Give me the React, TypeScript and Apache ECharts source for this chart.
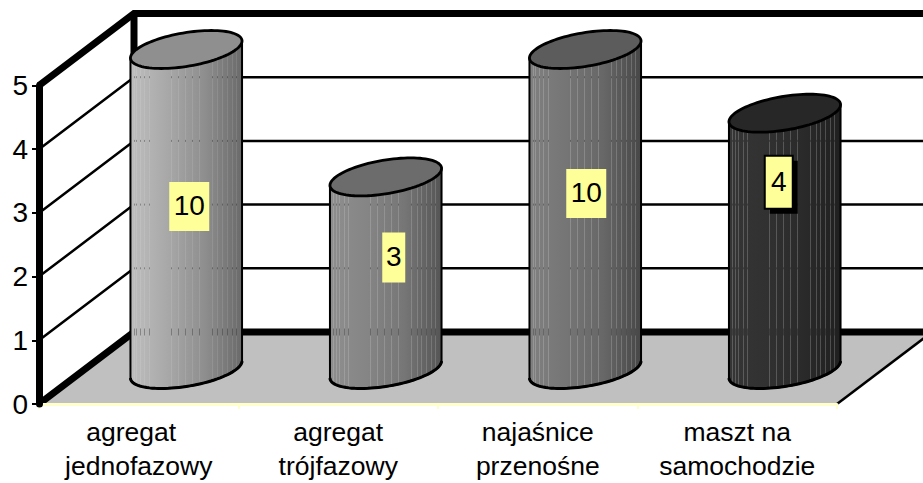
import React, { useEffect, useRef } from "react";
import * as echarts from "echarts";

const categories = ["agregat\njednofazowy", "agregat\ntrójfazowy", "najaśnice\nprzenośne", "maszt na\nsamochodzie"];
const values = [10, 3, 10, 4];
const gridLevels = [0, 1, 2, 3, 4, 5];
const axisMax = 5;

const sideStops = [
  ["#bebebe", "#a8a8a8", "#8e8e8e", "#6a6a6a"],
  ["#8e8e8e", "#858585", "#767676", "#555555"],
  ["#808080", "#757575", "#676767", "#474747"],
  ["#353535", "#313131", "#2a2a2a", "#202020"],
];
const topFills = ["#8f8f8f", "#6c6c6c", "#5c5c5c", "#272727"];
const stripeAlpha = [0.1, 0.16, 0.18, 0.2];
const stripeAt = [0.03, 0.05, 0.083, 0.125, 0.164, 0.363, 0.423, 0.485, 0.548, 0.61, 0.729, 0.78, 0.82, 0.863, 0.908, 0.943];

// hand-placed data labels of the reference: [dx from column centre, dy from column top, box width, box height]
const labelBoxes = [
  [3, 157, 40, 49],
  [8, 80.5, 23, 50],
  [1, 144, 40, 49],
  [-6, 69, 28, 53],
];
const selectedLabel = 3;

const DX = 95;
const DY = -72;
const FONT = '"Liberation Sans", Arial, sans-serif';
const FONT_SIZE = 26.5;
const NUMBER_SIZE = 28;

function wallItem(params: any, api: any) {
  const level = api.value(0);
  const cs = params.coordSys;
  const y = api.coord([0, level])[1];
  const x0 = cs.x;
  const x1 = cs.x + cs.width;
  const thick = level === 0 || level === axisMax;
  const lw = thick ? 7 : 2.5;
  const black = { stroke: "#000", lineWidth: lw, fill: "none" };
  const children: any[] = [];
  if (level === 0) {
    children.push({
      type: "polygon",
      shape: { points: [[x0, y], [x1, y], [x1 + DX, y + DY], [x0 + DX, y + DY]] },
      style: { fill: "#c0c0c0", stroke: "none" },
    });
    children.push({
      type: "line",
      shape: { x1: x1, y1: y, x2: x1 + DX, y2: y + DY },
      style: { stroke: "#000", lineWidth: 2.5 },
    });
    children.push({
      type: "line",
      shape: { x1: x0 + DX, y1: cs.y + DY, x2: x0 + DX, y2: y + DY },
      style: { stroke: "#000", lineWidth: 7 },
    });
  }
  children.push({
    type: "polyline",
    shape: { points: [[x0, y], [x0 + DX, y + DY], [x1 + DX, y + DY]] },
    style: black,
  });
  return { type: "group", children };
}

function columnItem(params: any, api: any) {
  const i = api.value(0);
  const raw = api.value(1);
  const v = Math.min(raw, axisMax);
  const base = api.coord([i, 0]);
  const head = api.coord([i, v]);
  const cx = base[0] + DX / 2;
  const by = base[1] + DY / 2 + 1.5;
  const ty = head[1] + DY / 2;
  const a = api.size([1, 0])[0] * 0.25;
  const vx = 25;
  const vy = -19;
  const t0 = Math.atan2(vx, a);
  const pt = (t: number, y0: number) => [cx + a * Math.cos(t) + vx * Math.sin(t), y0 + vy * Math.sin(t)];
  const arc: number[][] = [];
  const top: number[][] = [];
  const N = 48;
  for (let k = 0; k <= N; k++) arc.push(pt(t0 + Math.PI + (k / N) * Math.PI, by));
  for (let k = 0; k < N * 2; k++) top.push(pt((k / N) * Math.PI, ty));
  const left = pt(t0 + Math.PI, ty);
  const right = pt(t0, ty);
  const stops = sideStops[i];
  const children: any[] = [
    {
      type: "polygon",
      shape: { points: [left, ...arc, right] },
      style: {
        fill: new echarts.graphic.LinearGradient(0, 0, 1, 0, stops.map((color, n) => ({ offset: n / (stops.length - 1), color }))),
        stroke: "#000",
        lineWidth: 2,
      },
    },
  ];
  const width = right[0] - left[0];
  const arcY = (x: number) => {
    for (let k = 1; k < arc.length; k++) {
      if (arc[k][0] >= x) return arc[k][1];
    }
    return arc[arc.length - 1][1];
  };
  stripeAt.forEach((f) => {
    const x = Math.round(left[0] + f * width) + 0.5;
    children.push({
      type: "line",
      shape: { x1: x, y1: ty, x2: x, y2: arcY(x) - 1 },
      style: { stroke: `rgba(255,255,255,${stripeAlpha[i]})`, lineWidth: 1 },
    });
    gridLevels.forEach((level) => {
      const gy = api.coord([0, level])[1] + DY;
      if (level > v || gy < ty) return;
      const h = level === 0 ? 7 : 2;
      children.push({
        type: "line",
        shape: { x1: x, y1: gy - h / 2, x2: x, y2: gy + h / 2 },
        style: { stroke: "rgba(0,0,0,0.3)", lineWidth: 1 },
      });
    });
  });
  children.push({
    type: "polyline",
    shape: { points: arc },
    style: { fill: "none", stroke: "#000", lineWidth: 3 },
  });
  children.push({
    type: "polygon",
    shape: { points: top },
    style: { fill: topFills[i], stroke: "#000", lineWidth: 2.8 },
  });
  const box = labelBoxes[i];
  const lx = cx + box[0] - box[2] / 2;
  const ly = ty + box[1] - box[3] / 2;
  const selected = i === selectedLabel;
  if (selected) {
    children.push({
      type: "rect",
      shape: { x: lx + 5, y: ly + 5, width: box[2], height: box[3] },
      style: { fill: "#000" },
    });
  }
  children.push({
    type: "rect",
    shape: { x: lx, y: ly, width: box[2], height: box[3] },
    style: { fill: "#ffff99", stroke: selected ? "#000" : "none", lineWidth: selected ? 2 : 0 },
  });
  children.push({
    type: "text",
    style: {
      x: lx + box[2] / 2,
      y: ly + box[3] / 2 - 1,
      text: String(raw),
      fill: "#000",
      font: `${NUMBER_SIZE}px ${FONT}`,
      align: "center",
      verticalAlign: "middle",
    },
  });
  return { type: "group", children };
}

const richLine = { fontFamily: FONT, fontSize: FONT_SIZE, lineHeight: 34, color: "#000" };

export default function App() {
  const ref = useRef<HTMLDivElement>(null);
  useEffect(() => {
    const chart = echarts.init(ref.current!, undefined, { renderer: "svg" });
    chart.setOption({
      animation: false,
      backgroundColor: "#fff",
      grid: { left: 39, right: 86, top: 85.5, bottom: 77.5 },
      xAxis: {
        type: "category",
        data: categories,
        z: 5,
        axisLine: { show: true, lineStyle: { color: "#ffffcc", width: 3 } },
        axisTick: { show: true, length: 5, alignWithLabel: false, lineStyle: { color: "#ffffcc", width: 2 } },
        axisLabel: {
          interval: 0,
          color: "#000",
          fontFamily: FONT,
          fontSize: FONT_SIZE,
          lineHeight: 34,
          margin: 11,
          formatter: (value: string, index: number) => {
            if (index !== 0) return value;
            const [first, second] = value.split("\n");
            return `{pad|${first}}\n{line|${second}}`;
          },
          rich: { pad: { ...richLine, padding: [0, 15, 0, 0] }, line: richLine },
        },
      },
      yAxis: {
        type: "value",
        min: 0,
        max: axisMax,
        interval: 1,
        z: 10,
        splitLine: { show: false },
        axisLine: { show: true, lineStyle: { color: "#000", width: 7 } },
        axisTick: { show: true, length: 7, lineStyle: { color: "#000", width: 2 } },
        axisLabel: { color: "#000", fontFamily: FONT, fontSize: NUMBER_SIZE, margin: 11 },
      },
      series: [
        {
          type: "custom",
          z: 2,
          clip: false,
          silent: true,
          data: gridLevels.map((l) => [l]),
          encode: { y: 0 },
          renderItem: wallItem,
        },
        {
          type: "custom",
          z: 3,
          clip: false,
          silent: true,
          data: values.map((v, i) => [i, v]),
          encode: { x: 0, y: 1 },
          renderItem: columnItem,
        },
      ],
    });
    return () => chart.dispose();
  }, []);
  return <div ref={ref} style={{ position: "absolute", left: 0, top: 0, width: 923, height: 483, overflow: "hidden" }} />;
}
